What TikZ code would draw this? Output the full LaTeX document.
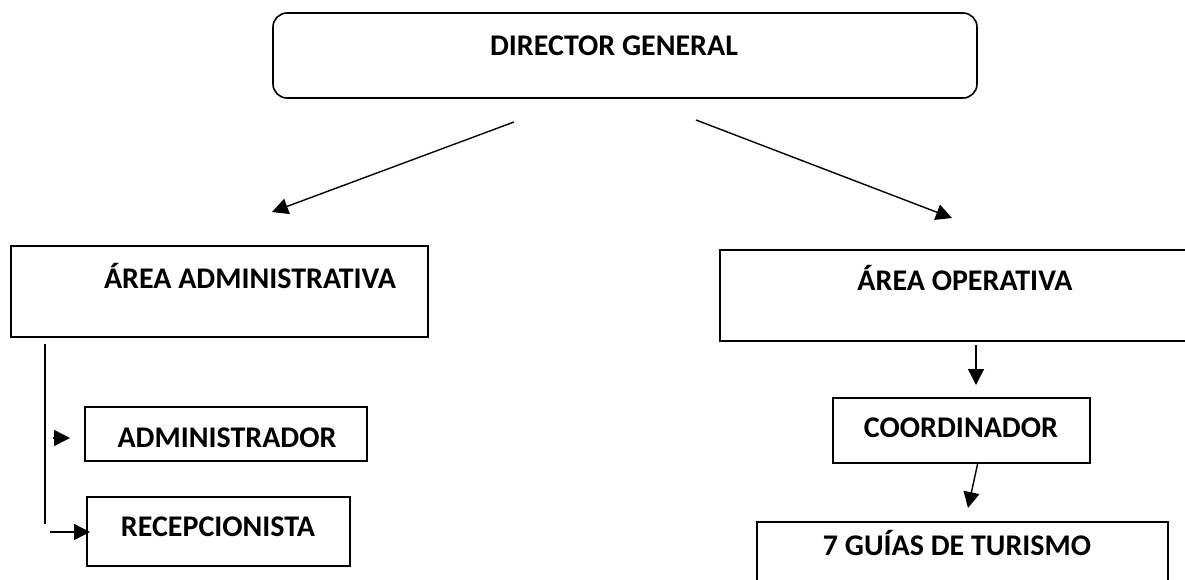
\documentclass[tikz,border=0pt]{standalone}
\usepackage{fontspec}
\setmainfont{Carlito}
\usetikzlibrary{arrows.meta}
\tikzset{
  box/.style={draw, line width=1.6pt, inner sep=0pt},
  lbl/.style={font=\bfseries\fontsize{30}{34}\selectfont, inner sep=0pt, text height=19pt, text depth=0pt},
  conn/.style={line width=1.4pt, -{Triangle[length=16pt,width=16pt]}}
}
\begin{document}
\begin{tikzpicture}[x=1pt,y=-1pt]
\useasboundingbox (0,0) rectangle (1185,579);
\clip (0,0) rectangle (1185,579);

% director
\node[box, rounded corners=14pt, minimum width=704pt, minimum height=85pt] (dir) at (625,55.5) {};
\node[lbl] (dirtxt) at (614,46) {DIRECTOR GENERAL};

% areas
\node[box, minimum width=417pt, minimum height=91pt] (adm) at (219.5,291.5) {};
\node[lbl] (admtxt) at (250,278.5) {ÁREA ADMINISTRATIVA};
\node[box, minimum width=480pt, minimum height=91pt] (ope) at (960,295.5) {};
\node[lbl] (opetxt) at (965,281) {ÁREA OPERATIVA};

% left branch
\node[box, minimum width=282pt, minimum height=54pt] (admr) at (226,434) {};
\node[lbl] (admrtxt) at (227,438) {ADMINISTRADOR};
\node[box, minimum width=263pt, minimum height=69pt] (rec) at (218.5,531.5) {};
\node[lbl] (rectxt) at (218,527) {RECEPCIONISTA};

% right branch
\node[box, minimum width=257pt, minimum height=65pt] (coord) at (961.5,430.5) {};
\node[lbl] (coordtxt) at (961,428) {COORDINADOR};
\node[box, minimum width=411pt, minimum height=100pt] (guias) at (962.5,572) {};
\node[lbl] (guiastxt) at (957,546) {7 GUÍAS DE TURISMO};

% free ends of the connectors
\coordinate (d1) at (514,122);
\coordinate (d2) at (272,212);
\coordinate (d3) at (696,120);
\coordinate (d4) at (952,218);
\coordinate (v1) at (45,344);
\coordinate (v2) at (45,524);
\coordinate (a1) at (53,438);
\coordinate (a2) at (70,438);
\coordinate (r1) at (50,532);
\coordinate (r2) at (90,532);
\coordinate (o1) at (976,345);
\coordinate (o2) at (976,385);
\coordinate (c1) at (978,462);
\coordinate (c2) at (968,508);

\draw[conn] (d1) -- (d2);
\draw[conn] (d3) -- (d4);
\draw[line width=1.4pt] (v1) -- (v2);
\draw[conn] (a1) -- (a2);
\draw[conn] (r1) -- (r2);
\draw[conn] (o1) -- (o2);
\draw[conn] (c1) -- (c2);

\end{tikzpicture}
\end{document}
